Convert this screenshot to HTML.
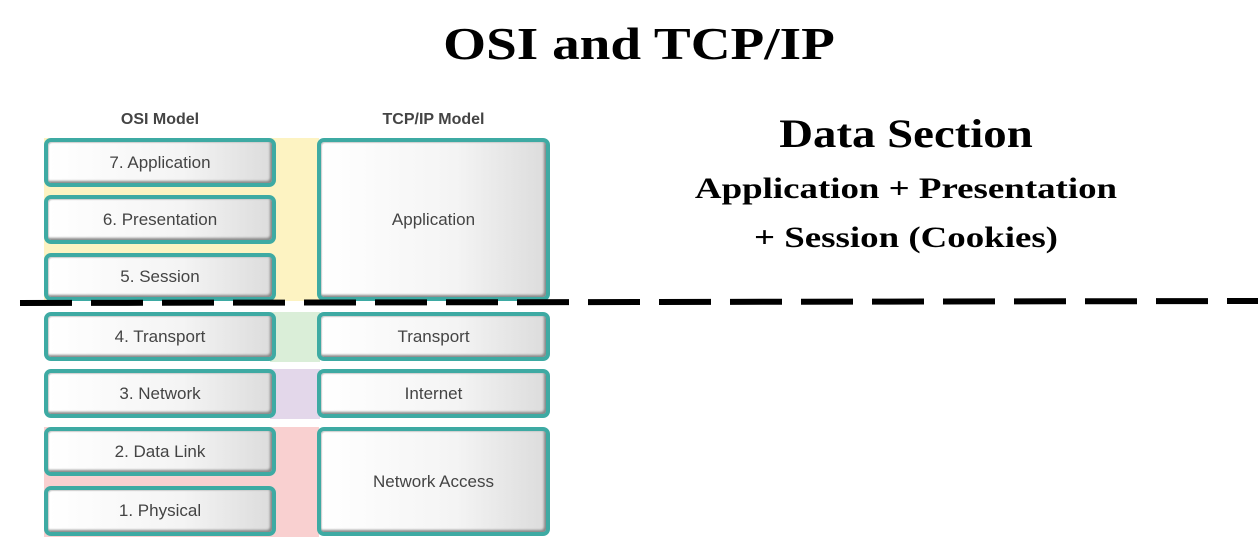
<!DOCTYPE html>
<html><head><style>
body{margin:0;width:1258px;height:559px;background:#fff;position:relative;overflow:hidden;font-family:"Liberation Sans",sans-serif}
.t{position:absolute;font-family:"Liberation Serif",serif;font-weight:bold;color:#000;white-space:nowrap;text-align:center}
.b{position:absolute;box-sizing:border-box;border:4px solid #3eaaa3;border-radius:7px;background:linear-gradient(90deg,#fff 0%,#f4f4f4 60%,#dcdcdc 100%);box-shadow:inset -2px -2px 2px #888,inset 1px 1px 1px #ccc;display:flex;align-items:center;justify-content:center;color:#444;font-size:17px}
.bg{position:absolute}
.h{position:absolute;font-weight:bold;color:#444;font-size:16px;text-align:center}
</style></head><body>
<div class="t" style="left:0;width:1278px;top:16px;font-size:46px;line-height:56px;transform:scaleX(1.2)">OSI and TCP/IP</div>
<div class="t" style="left:706px;width:400px;top:110px;font-size:40px;line-height:48px;transform:scaleX(1.17)">Data Section</div>
<div class="t" style="left:606px;width:600px;top:171px;font-size:30px;line-height:36px;transform:scaleX(1.23)">Application + Presentation</div>
<div class="t" style="left:606px;width:600px;top:220px;font-size:30px;line-height:36px;transform:scaleX(1.23)">+ Session (Cookies)</div>

<div class="h" style="left:44px;width:232px;top:111px">OSI Model</div>
<div class="h" style="left:317px;width:233px;top:111px">TCP/IP Model</div>

<div class="bg" style="left:44px;top:138px;width:275px;height:163px;background:#fdf3c2"></div>
<div class="bg" style="left:270px;top:312px;width:50px;height:50px;background:#daeed8"></div>
<div class="bg" style="left:270px;top:369px;width:50px;height:50px;background:#e3d7ea"></div>
<div class="bg" style="left:44px;top:427px;width:275px;height:110px;background:#f9d0d0"></div>

<div class="b" style="left:44px;top:138px;width:232px;height:49px">7. Application</div>
<div class="b" style="left:44px;top:195px;width:232px;height:49px">6. Presentation</div>
<div class="b" style="left:44px;top:253px;width:232px;height:48px">5. Session</div>
<div class="b" style="left:44px;top:312px;width:232px;height:49px">4. Transport</div>
<div class="b" style="left:44px;top:369px;width:232px;height:49px">3. Network</div>
<div class="b" style="left:44px;top:427px;width:232px;height:49px">2. Data Link</div>
<div class="b" style="left:44px;top:486px;width:232px;height:50px">1. Physical</div>

<div class="b" style="left:317px;top:138px;width:233px;height:163px">Application</div>
<div class="b" style="left:317px;top:312px;width:233px;height:49px">Transport</div>
<div class="b" style="left:317px;top:369px;width:233px;height:49px">Internet</div>
<div class="b" style="left:317px;top:427px;width:233px;height:109px">Network Access</div>

<svg style="position:absolute;left:0;top:0" width="1258" height="559"><line x1="20" y1="303" x2="1258" y2="301" stroke="#000" stroke-width="6" stroke-dasharray="52 19"/></svg>
</body></html>
